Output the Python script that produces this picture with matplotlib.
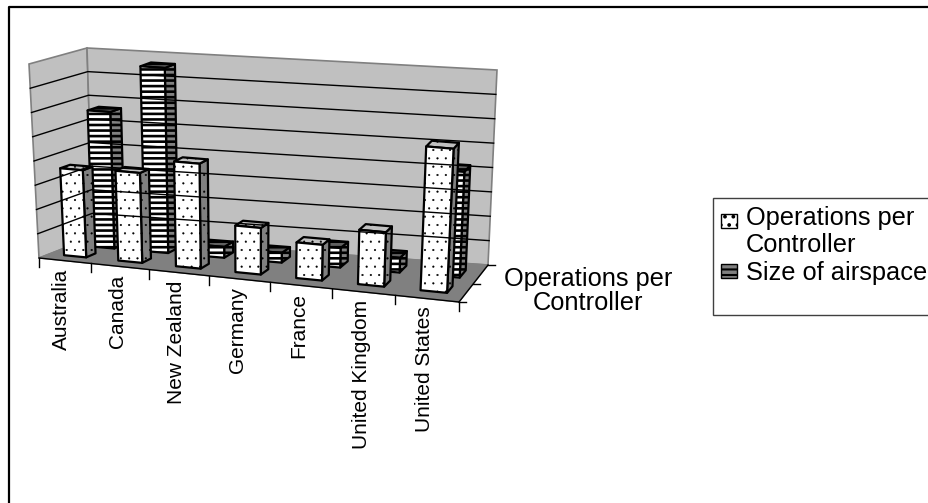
import matplotlib
matplotlib.use('Agg')
import matplotlib.pyplot as plt
from matplotlib.legend_handler import HandlerPatch
from matplotlib.patches import Polygon, Patch, Rectangle

plt.rcParams['font.family'] = ['Liberation Sans', 'DejaVu Sans']

countries = ['Australia', 'Canada', 'New Zealand', 'Germany', 'France', 'United Kingdom', 'United States']
operations = [3.6, 3.7, 4.3, 1.9, 1.45, 2.2, 5.8]
airspace = [5.7, 7.7, 0.45, 0.4, 0.8, 0.6, 4.3]
grid_max = 8

# corners of the box in picture pixels (front/back, left/right, bottom/top)
FLB, FRB, BLB, BRB = (39, 258), (459, 302), (93, 237), (488, 265)
FLT, FRT, BLT, BRT = (29, 64), (469, 102), (87, 48), (497, 70)


def project(u, v, h):
    # u along the categories, v into the depth, h up (all 0..1)
    u = u ** 1.07
    res = []
    for i in range(2):
        bottom = (1 - v) * ((1 - u) * FLB[i] + u * FRB[i]) + v * ((1 - u) * BLB[i] + u * BRB[i])
        top = (1 - v) * ((1 - u) * FLT[i] + u * FRT[i]) + v * ((1 - u) * BLT[i] + u * BRT[i])
        res.append((1 - h) * bottom + h * top)
    return res


def bar(ax, k, value, v0, v1, shift, hatch, front, side, roof):
    u0 = (k + 0.3 + shift) / 7
    u1 = (k + 0.72 + shift) / 7
    h = value / grid_max
    faces = [
        ([(u1, v0, 0), (u1, v1, 0), (u1, v1, h), (u1, v0, h)], side),
        ([(u0, v0, h), (u1, v0, h), (u1, v1, h), (u0, v1, h)], roof),
        ([(u0, v0, 0), (u1, v0, 0), (u1, v0, h), (u0, v0, h)], front),
    ]
    for pts, col in faces:
        ax.add_patch(Polygon([project(*p) for p in pts], closed=True, facecolor=col,
                             edgecolor='black', hatch=hatch, linewidth=1.6, joinstyle='round'))


def swatch(shift):
    def make(legend, orig_handle, xdescent, ydescent, width, height, fontsize):
        return Rectangle((-xdescent, -ydescent + shift), width, height)
    return HandlerPatch(patch_func=make)


fig = plt.figure(figsize=(9.29, 5.03), dpi=100)
ax = fig.add_axes([0, 0, 1, 1])
ax.set_xlim(0, 929)
ax.set_ylim(503, 0)
ax.axis('off')

# frame: only top and left are in the picture
ax.plot([9, 9, 929], [503, 7, 7], color='black', linewidth=1.6)

# walls and floor
ax.add_patch(Polygon([FLB, FLT, BLT, BLB], facecolor='#c0c0c0', edgecolor='#808080', linewidth=1.2))
ax.add_patch(Polygon([BLB, BLT, BRT, BRB], facecolor='#c0c0c0', edgecolor='#808080', linewidth=1.2))
ax.add_patch(Polygon([FLB, FRB, BRB, BLB], facecolor='#808080', edgecolor='#808080', linewidth=1))

for g in range(1, grid_max):
    h = g / grid_max
    xs, ys = zip(project(0, 0, h), project(0, 1, h), project(1, 1, h))
    ax.plot(xs, ys, color='black', linewidth=1)

# ticks
for k in range(8):
    x, y = project(k / 7, 0, 0)
    ax.plot([x, x], [y, y + 9], color='black', linewidth=1)
for v in [0, 0.5, 1]:
    x, y = project(1, v, 0)
    ax.plot([x, x + 7], [y, y], color='black', linewidth=1)
ax.plot(*zip(project(0, 0, 0), project(1, 0, 0)), color='black', linewidth=1)
ax.plot(*zip(project(1, 0, 0), project(1, 1, 0)), color='black', linewidth=1)

# bars, back row first (back row drifts a little to the right on the left side)
plt.rcParams['hatch.linewidth'] = 1.9
for k, val in enumerate(airspace):
    bar(ax, k, val, 0.62, 0.82, 0.12 * (1 - k / 6), '---', 'white', '#808080', '#606060')
plt.rcParams['hatch.linewidth'] = 0.3
for k, val in enumerate(operations):
    bar(ax, k, val, 0.2, 0.38, 0, '..', 'white', '#808080', '#c0c0c0')

# labels
for k, name in enumerate(countries):
    x, y = project((k + 0.5) / 7, 0, 0)
    ax.text(x - 2, y + 8, name, rotation=90, ha='center', va='top', fontsize=15)
ax.text(588, 291, 'Operations per\nController', ha='center', va='center', fontsize=18.3, linespacing=1.05)

plt.rcParams['hatch.linewidth'] = 0.3
p1 = Patch(facecolor='white', edgecolor='black', hatch='..', label='Operations per\nController')
plt.rcParams['hatch.linewidth'] = 1.5
p2 = Patch(facecolor='#808080', edgecolor='black', hatch='---', label='Size of airspace')
p3 = Patch(facecolor='none', edgecolor='none', label=' ')
leg = ax.legend(handles=[p1, p2, p3], handler_map={p1: swatch(8), p2: swatch(0)},
                loc='upper left', bbox_to_anchor=(713, 198), bbox_transform=ax.transData,
                borderaxespad=0, frameon=True, fancybox=False, edgecolor='#404040', framealpha=1,
                fontsize=18.3, handlelength=0.65, handleheight=0.5, handletextpad=0.35, borderpad=0.3,
                labelspacing=0.15)
leg.get_texts()[2].set_fontsize(8)

fig.savefig('out.png', dpi=100)
